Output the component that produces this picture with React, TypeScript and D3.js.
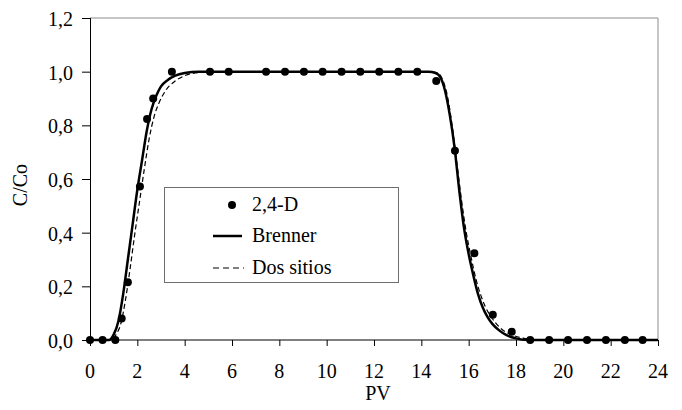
import React from "react";
import * as d3 from "d3";

// measured points 2,4-D
const obsPV = [0, 0.53, 1.07, 1.34, 1.6, 2.11, 2.41, 2.67, 3.46, 5.07, 5.86, 7.44, 8.24, 9.04, 9.83, 10.63, 11.42, 12.22, 13.03, 13.83, 14.63, 15.42, 16.24, 17.02, 17.82, 18.6, 19.4, 20.2, 21.0, 21.8, 22.6, 23.35];
const obsC = [0, 0, 0, 0.08, 0.215, 0.572, 0.824, 0.9, 1.0, 1, 1, 1, 1, 1, 1, 1, 1, 1, 1, 1, 0.965, 0.705, 0.323, 0.094, 0.031, 0, 0, 0, 0, 0, 0, 0];

// Brenner fit
const brennerPV = [0, 0.8, 1.0, 1.2, 1.4, 1.6, 1.8, 2.0, 2.2, 2.4, 2.6, 2.8, 3.0, 3.3, 3.6, 4.0, 4.6, 14.3, 14.6, 14.8, 15.0, 15.2, 15.4, 15.6, 15.8, 16.0, 16.2, 16.4, 16.6, 16.8, 17.0, 17.3, 17.6, 18.0, 18.5, 24];
const brennerC = [0, 0, 0.02, 0.07, 0.17, 0.3, 0.43, 0.56, 0.67, 0.78, 0.86, 0.91, 0.945, 0.97, 0.985, 0.995, 1, 1, 0.995, 0.98, 0.93, 0.84, 0.72, 0.56, 0.42, 0.32, 0.24, 0.17, 0.12, 0.085, 0.06, 0.035, 0.018, 0.006, 0, 0];

// Dos sitios fit
const dosPV = [0, 0.9, 1.1, 1.3, 1.5, 1.7, 1.9, 2.1, 2.3, 2.5, 2.7, 2.9, 3.2, 3.6, 4.0, 4.6, 5.2, 14.3, 14.7, 14.9, 15.1, 15.3, 15.5, 15.7, 15.9, 16.1, 16.3, 16.5, 16.7, 17.0, 17.4, 17.8, 18.3, 19.0, 24];
const dosC = [0, 0, 0.02, 0.06, 0.15, 0.27, 0.4, 0.52, 0.64, 0.75, 0.83, 0.88, 0.93, 0.965, 0.985, 0.997, 1, 1, 0.995, 0.97, 0.91, 0.8, 0.66, 0.52, 0.4, 0.31, 0.23, 0.17, 0.125, 0.08, 0.04, 0.02, 0.007, 0, 0];

const xTicks = [0, 2, 4, 6, 8, 10, 12, 14, 16, 18, 20, 22, 24];
const yTicks = [0, 0.2, 0.4, 0.6, 0.8, 1.0, 1.2];
const legendLabels = ["2,4-D", "Brenner", "Dos sitios"];

const W = 682;
const H = 410;
const left = 90;
const right = 658;
const top = 18;
const bottom = 340;
const font = "Liberation Serif";
const fs = 20;

const x = d3.scaleLinear().domain([0, 24]).range([left, right]);
const y = d3.scaleLinear().domain([0, 1.2]).range([bottom, top]);
const fmt = (v: number) => v.toFixed(1).replace(".", ",");

const line = d3.line<[number, number]>()
  .x((d) => x(d[0]))
  .y((d) => y(d[1]))
  .curve(d3.curveMonotoneX);

export default function App() {
  const brenner = line(brennerPV.map((v, i) => [v, brennerC[i]] as [number, number])) || "";
  const dos = line(dosPV.map((v, i) => [v, dosC[i]] as [number, number])) || "";
  const rows = [205, 236, 268];

  return (
    <div style={{ position: "absolute", left: 0, top: 0 }}>
      <svg width={W} height={H} style={{ display: "block", background: "#fff" }} fontFamily={font} fontSize={fs}>
        {/* plot border, gray top and right */}
        <path d={`M${left},${top}H${right}V${bottom}`} fill="none" stroke="#8c8c8c" />

        {/* x axis */}
        <line x1={left} x2={right} y1={bottom} y2={bottom} stroke="#000" />
        {xTicks.map((t) => (
          <g key={"x" + t}>
            <line x1={x(t) + 0.5} x2={x(t) + 0.5} y1={bottom} y2={bottom + 6} stroke="#000" />
            <text x={x(t)} y={bottom + 38} textAnchor="middle">{t}</text>
          </g>
        ))}

        {/* y axis */}
        <line x1={left + 0.5} x2={left + 0.5} y1={top} y2={bottom} stroke="#000" />
        {yTicks.map((t) => (
          <g key={"y" + t}>
            <line x1={left - 8} x2={left} y1={y(t) + 0.5} y2={y(t) + 0.5} stroke="#000" />
            <text x={left - 17} y={y(t) + 8} textAnchor="end">{fmt(t)}</text>
          </g>
        ))}

        <text x={(left + right) / 2 + 4} y={400} textAnchor="middle">PV</text>
        <text textAnchor="middle" transform={`translate(27,${(top + bottom) / 2 + 6})rotate(-90)`}>C/Co</text>

        {/* fitted curves */}
        <path d={dos} fill="none" stroke="#000" strokeWidth={1.2} strokeDasharray="5,3" />
        <path d={brenner} fill="none" stroke="#000" strokeWidth={2.5} />

        {/* observations */}
        {obsPV.map((v, i) => (
          <circle key={"o" + i} cx={x(v)} cy={y(obsC[i])} r={4} fill="#000" />
        ))}

        {/* legend */}
        <rect x={164.5} y={187.5} width={234} height={95} fill="#fff" stroke="#6e6e6e" />
        <circle cx={232} cy={rows[0]} r={4} fill="#000" />
        <line x1={213} x2={242} y1={rows[1]} y2={rows[1]} stroke="#000" strokeWidth={2.5} />
        <line x1={213} x2={244} y1={rows[2]} y2={rows[2]} stroke="#000" strokeWidth={1.2} strokeDasharray="6,4" />
        {legendLabels.map((t, i) => (
          <text key={t} x={252} y={rows[i] + 6}>{t}</text>
        ))}
      </svg>
    </div>
  );
}
